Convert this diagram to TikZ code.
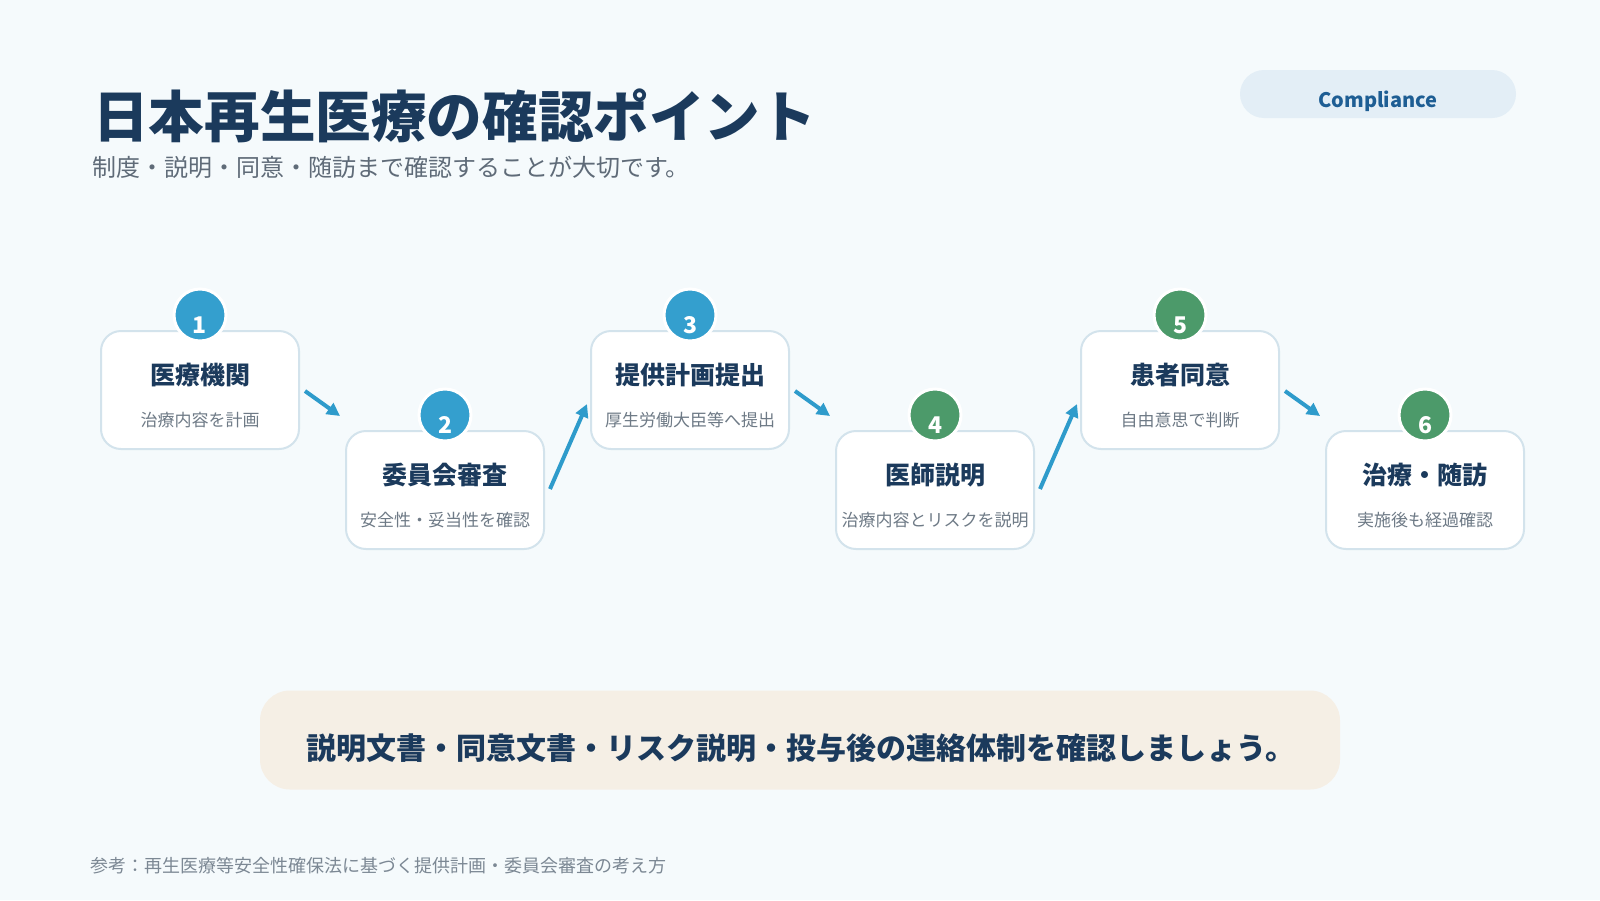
\documentclass[tikz,border=0pt]{standalone}
\usepackage{fontspec}
\setmainfont{Noto Sans CJK JP}
\usetikzlibrary{arrows.meta,calc}
\definecolor{bg}{HTML}{F5FAFC}
\definecolor{navy}{HTML}{1B3A5C}
\definecolor{subgray}{HTML}{5F6B78}
\definecolor{smallgray}{HTML}{6E7A86}
\definecolor{footgray}{HTML}{7C8894}
\definecolor{boxline}{HTML}{D3E3EC}
\definecolor{blueA}{HTML}{349FCE}
\definecolor{greenA}{HTML}{4C9A6A}
\definecolor{arrowc}{HTML}{2E9BCB}
\definecolor{pill}{HTML}{E3EEF6}
\definecolor{pilltext}{HTML}{1E5E94}
\definecolor{beige}{HTML}{F5EFE5}
\newcommand{\fs}[1]{\fontsize{#1}{#1}\selectfont}
\begin{document}
\begin{tikzpicture}[x=1pt,y=-1pt,
  stepbox/.style={draw=boxline, line width=2pt, fill=white, rounded corners=20pt,
    minimum width=198pt, minimum height=118pt, inner sep=0pt},
  numcirc/.style={circle, draw=white, line width=3pt, minimum size=52pt, inner sep=0pt},
  numtext/.style={text=white, font=\fs{23}\bfseries, inner sep=0pt},
  steptitle/.style={text=navy, font=\fs{25}\bfseries, inner sep=0pt},
  stepsub/.style={text=smallgray, font=\fs{17}, inner sep=0pt},
  flow/.style={draw=arrowc, line width=4pt, -{Triangle[length=13pt,width=13pt]}}
]
\fill[bg] (0,0) rectangle (1600,900);
\useasboundingbox (0,0) rectangle (1600,900);

% title
\node[anchor=west, inner sep=0pt, text=navy, font=\fs{55.6}\bfseries] (title) at (93,116) {日本再生医療の確認ポイント};
\node[anchor=west, inner sep=0pt, text=subgray, font=\fs{24}] (subtitle) at (92,167) {制度・説明・同意・随訪まで確認することが大切です。};

% pill
\node[fill=pill, rounded corners=24pt, minimum width=276pt, minimum height=48pt, inner sep=0pt] (pill) at (1378,94) {};
\node[text=pilltext, font=\fs{20}\bfseries, inner sep=0pt] (pilllabel) at (1378,101) {Compliance};

% boxes
\foreach \i/\x/\y/\col/\t/\s in {
  1/200/390/blueA/医療機関/治療内容を計画,
  2/445/490/blueA/委員会審査/安全性・妥当性を確認,
  3/690/390/blueA/提供計画提出/厚生労働大臣等へ提出,
  4/935/490/greenA/医師説明/治療内容とリスクを説明,
  5/1180/390/greenA/患者同意/自由意思で判断,
  6/1425/490/greenA/治療・随訪/実施後も経過確認}{
  \node[stepbox] (b\i) at (\x,\y) {};
  \node[steptitle] (t\i) at ($(b\i.center)+(0,-15)$) {\t};
  \node[stepsub] (s\i) at ($(b\i.center)+(0,30)$) {\s};
  \node[numcirc, fill=\col] (c\i) at ($(b\i.north)+(0,-15)$) {};
  \node[numtext] (n\i) at ($(c\i.center)+(0,10)$) {\i};
}

% arrows
\draw[flow] ($(b1.east)+(5,1)$) -- ($(b2.west)+(-5,-74)$);
\draw[flow] ($(b2.east)+(5,-1)$) -- ($(b3.west)+(-3,14)$);
\draw[flow] ($(b3.east)+(5,1)$) -- ($(b4.west)+(-5,-74)$);
\draw[flow] ($(b4.east)+(5,-1)$) -- ($(b5.west)+(-3,14)$);
\draw[flow] ($(b5.east)+(5,1)$) -- ($(b6.west)+(-5,-74)$);

% banner
\node[fill=beige, rounded corners=30pt, minimum width=1080pt, minimum height=99pt, inner sep=0pt] (banner) at (800,740) {};
\node[text=navy, font=\fs{30}\bfseries, inner sep=0pt] (bannertext) at (801,748) {説明文書・同意文書・リスク説明・投与後の連絡体制を確認しましょう。};

% footer
\node[anchor=west, inner sep=0pt, text=footgray, font=\fs{18}] (footer) at (90,866) {参考：再生医療等安全性確保法に基づく提供計画・委員会審査の考え方};
\end{tikzpicture}
\end{document}
